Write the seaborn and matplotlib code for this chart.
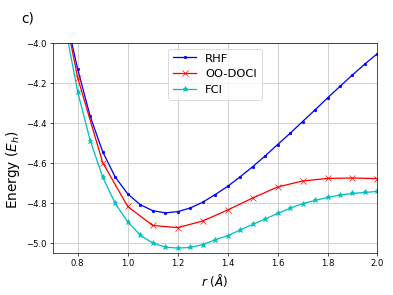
import matplotlib
matplotlib.use("Agg")
import matplotlib.pyplot as plt
import pandas as pd
import seaborn as sns

# bond length r (Angstrom) and energies (E_h)
r_rhf = [0.75, 0.80, 0.85, 0.90, 0.95, 1.00, 1.05, 1.10, 1.15, 1.20, 1.25, 1.30,
         1.35, 1.40, 1.45, 1.50, 1.55, 1.60, 1.65, 1.70, 1.75, 1.80, 1.85, 1.90,
         1.95, 2.00]
e_rhf = [-3.857, -4.132, -4.367, -4.544, -4.670, -4.754, -4.808, -4.838, -4.849,
         -4.843, -4.825, -4.796, -4.758, -4.717, -4.669, -4.619, -4.565, -4.508,
         -4.452, -4.393, -4.335, -4.275, -4.217, -4.160, -4.105, -4.053]

r_doci = [0.70, 0.80, 0.90, 1.00, 1.10, 1.20, 1.30, 1.40, 1.50, 1.60, 1.70, 1.80,
          1.90, 2.00]
e_doci = [-3.55, -4.175, -4.598, -4.817, -4.912, -4.923, -4.890, -4.835, -4.775,
          -4.720, -4.690, -4.677, -4.675, -4.678]

r_fci = [0.75, 0.80, 0.85, 0.90, 0.95, 1.00, 1.05, 1.10, 1.15, 1.20, 1.25, 1.30,
         1.35, 1.40, 1.45, 1.50, 1.55, 1.60, 1.65, 1.70, 1.75, 1.80, 1.85, 1.90,
         1.95, 2.00]
e_fci = [-3.92, -4.245, -4.488, -4.670, -4.802, -4.894, -4.960, -5.000, -5.020,
         -5.025, -5.022, -5.008, -4.984, -4.963, -4.935, -4.907, -4.880, -4.852,
         -4.826, -4.803, -4.787, -4.772, -4.760, -4.752, -4.747, -4.742]

rhf = pd.DataFrame({"r": r_rhf, "E": e_rhf})
doci = pd.DataFrame({"r": r_doci, "E": e_doci})
fci = pd.DataFrame({"r": r_fci, "E": e_fci})

fig, ax = plt.subplots(figsize=(6.4, 4.8), dpi=61.5)
fig.subplots_adjust(left=0.134, right=0.959, top=0.854, bottom=0.142)

sns.lineplot(data=rhf, x="r", y="E", ax=ax, color="b", marker=".",
             markeredgecolor="b", label="RHF")
sns.lineplot(data=doci, x="r", y="E", ax=ax, color="r", marker="x",
             markeredgecolor="r", label="OO-DOCI")
sns.lineplot(data=fci, x="r", y="E", ax=ax, color="c", marker="*",
             markeredgecolor="c", label="FCI")

ax.set_xlim(0.7, 2.0)
ax.set_ylim(-5.05, -4.0)
ax.grid(True, color="#d0d0d0", linewidth=1.2)
ax.set_xlabel(r"$r$ ($Å$)", fontsize=14)
ax.set_ylabel(r"Energy ($E_h$)", fontsize=16)
ax.yaxis.set_label_coords(-0.095, 0.40)
ax.legend(loc="upper center", fontsize=13.5)
fig.text(0.055, 0.925, "c)", fontsize=16)

fig.savefig("out.png", dpi=61.5)
